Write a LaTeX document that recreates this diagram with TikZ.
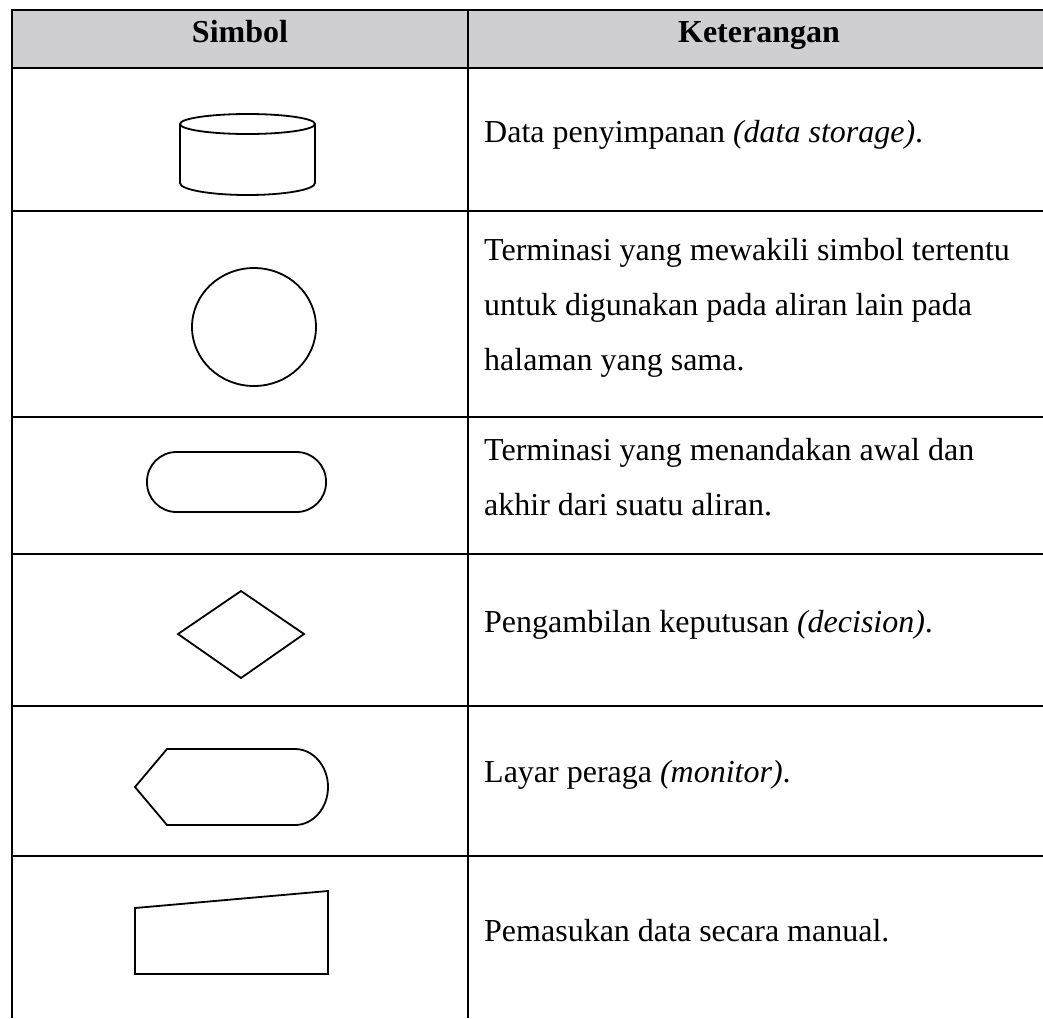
\documentclass[tikz,border=0pt]{standalone}
\usepackage{fontspec}
\setmainfont{Liberation Serif}
\definecolor{hdr}{RGB}{207,206,208}
\begin{document}
\begin{tikzpicture}[x=1pt,y=-1pt,
  grid/.style={line width=2.6pt},
  sym/.style={line width=1.8pt},
  txt/.style={anchor=base west,inner sep=0pt,font=\fontsize{32}{55}\selectfont},
  head/.style={anchor=base,inner sep=0pt,font=\fontsize{32}{55}\selectfont\bfseries}]
\useasboundingbox (0,0) rectangle (1043,1018);
% header
\fill[hdr] (12,10) rectangle (1043,68);
\node[head] (h1) at (240,42) {Simbol};
\node[head] (h2) at (759,42) {Keterangan};
% grid lines
\draw[grid] (1043,10) -- (12,10) -- (12,1018);
\draw[grid] (468,10) -- (468,1018);
\foreach \yy in {68,211,417,554,706,856}
  \draw[grid] (12,\yy) -- (1043,\yy);
% symbols
% cylinder
\draw[sym] (247.5,124) ellipse [x radius=67.5pt, y radius=10pt];
\draw[sym] (180,124) -- (180,183) arc[start angle=180, end angle=360, x radius=67.5pt, y radius=12pt] -- (315,124);
% circle
\draw[sym] (254,327) ellipse [x radius=62pt, y radius=59pt];
% terminator
\draw[sym, rounded corners=29.5pt] (147,452) rectangle (326,512);
% decision
\draw[sym] (178,634) -- (241,591) -- (304,634) -- (241,678) -- cycle;
% display
\draw[sym] (135,787) -- (167,749) -- (295,749) arc[start angle=90, end angle=-90, x radius=33pt, y radius=38pt] -- (167,825) -- cycle;
% manual input
\draw[sym] (135,908) -- (328,891) -- (328,974) -- (135,974) -- cycle;
% descriptions
\node[txt] (t1) at (484,142) {Data penyimpanan \textit{(data storage)}.};
\node[txt] (t2) at (484,370) {\begin{tabular}[b]{@{}l@{}}Terminasi yang mewakili simbol tertentu\\ untuk digunakan pada aliran lain pada\\ halaman yang sama.\end{tabular}};
\node[txt] (t3) at (484,515) {\begin{tabular}[b]{@{}l@{}}Terminasi yang menandakan awal dan\\ akhir dari suatu aliran.\end{tabular}};
\node[txt] (t4) at (484,632) {Pengambilan keputusan \textit{(decision)}.};
\node[txt] (t5) at (484,782) {Layar peraga \textit{(monitor)}.};
\node[txt] (t6) at (484,941) {Pemasukan data secara manual.};
\end{tikzpicture}
\end{document}
